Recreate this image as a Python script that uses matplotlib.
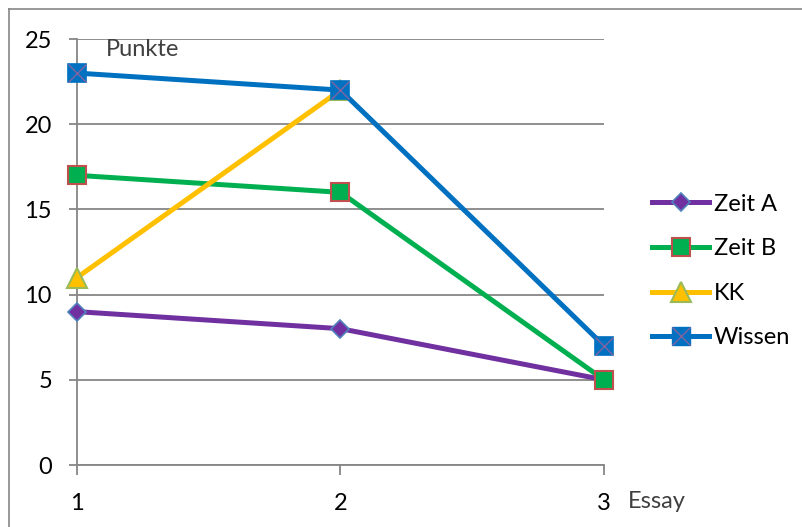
import matplotlib
matplotlib.use("Agg")
import matplotlib.pyplot as plt
from matplotlib.lines import Line2D

essays = [1, 2, 3]
zeit_a = [9, 8, 5]
zeit_b = [17, 16, 5]
kk = [11, 22, float('nan')]
wissen = [23, 22, 7]
y_ticks = [0, 5, 10, 15, 20, 25]

plt.rcParams['font.family'] = ['Lato', 'DejaVu Sans']
grid_c = '#868686'
fs = 17

W, H = 803, 527
fig = plt.figure(figsize=(W / 100, H / 100), dpi=100)
ax = fig.add_axes([77 / W, 62 / H, (604 - 77) / W, (465 - 39) / H])

# outer chart frame
fig.add_artist(Line2D([9 / W, 9 / W], [0, 1 - 9 / H], color=grid_c, lw=1.2,
                      transform=fig.transFigure))
fig.add_artist(Line2D([9 / W, 1], [1 - 9 / H, 1 - 9 / H], color=grid_c, lw=1.2,
                      transform=fig.transFigure))

lw = 3.6
sq = 13.2
la, = ax.plot(essays, zeit_a, color='#7030A0', lw=lw, marker='D', ms=9.5,
              mfc='#7030A0', mec='#4F81BD', mew=1.2, clip_on=False, zorder=3)
lb, = ax.plot(essays, zeit_b, color='#00B050', lw=lw, marker='s', ms=sq,
              mfc='#00B050', mec='#C0504D', mew=1.5, clip_on=False, zorder=4)
lk, = ax.plot(essays, kk, color='#FFC000', lw=lw, marker='^', ms=14,
              mfc='#FFC000', mec='#9BBB59', mew=1.5, clip_on=False, zorder=5)
lw_, = ax.plot(essays, wissen, color='#0070C0', lw=lw, marker='s', ms=sq,
               mfc='#0070C0', mec='#0070C0', mew=1.2, clip_on=False, zorder=6)
ax.plot(essays, wissen, ls='none', marker='x', ms=sq - 0.5, mec='#8064A2', mew=1.0,
        clip_on=False, zorder=7)

ax.set_xlim(1, 3)
ax.set_ylim(0, 25)
ax.set_xticks(essays)
ax.set_yticks(y_ticks)
ax.yaxis.grid(True, color=grid_c, lw=1.3)
ax.set_axisbelow(True)
for s in ['top', 'right']:
    ax.spines[s].set_visible(False)
for s in ['left', 'bottom']:
    ax.spines[s].set_color(grid_c)
    ax.spines[s].set_linewidth(1.3)
ax.tick_params(axis='y', length=6, width=1.3, color=grid_c, pad=12, labelsize=fs)
ax.tick_params(axis='x', length=7, width=1.3, color=grid_c, pad=13, labelsize=fs)

fig.text(106 / W, 1 - 50 / H, 'Punkte', fontsize=fs,
         color='#404040', va='center', ha='left')
fig.text(628 / W, 1 - 502 / H, 'Essay', fontsize=fs,
         color='#404040', va='center', ha='left')

wissen_handle = (Line2D([], [], color='#0070C0', lw=lw, marker='s', ms=sq,
                        mfc='#0070C0', mec='#0070C0'),
                 Line2D([], [], ls='none', marker='x', ms=sq - 0.5, mec='#8064A2', mew=1.0))
leg = fig.legend([la, lb, lk, wissen_handle], ['Zeit A', 'Zeit B', 'KK', 'Wissen'],
                 loc='center left', bbox_to_anchor=(631 / W, 1 - 271 / H),
                 frameon=False, fontsize=fs, handlelength=2.4, handletextpad=0.2,
                 labelspacing=1.0)

fig.savefig('out.png', dpi=100)
